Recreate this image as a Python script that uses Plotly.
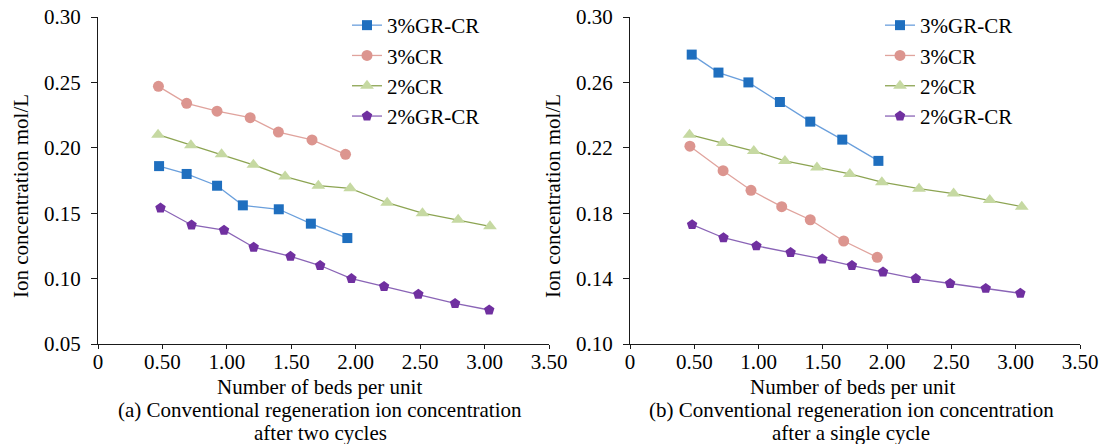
import plotly.graph_objects as go

W, H = 1107, 444

series_names = ["3%GR-CR", "3%CR", "2%CR", "2%GR-CR"]

# Panel (a): after two cycles
x_a_3gr = [0.474, 0.688, 0.924, 1.124, 1.403, 1.652, 1.935]
y_a_3gr = [0.186, 0.180, 0.171, 0.156, 0.153, 0.142, 0.131]
x_a_3cr = [0.469, 0.688, 0.924, 1.181, 1.400, 1.661, 1.921]
y_a_3cr = [0.247, 0.234, 0.228, 0.223, 0.212, 0.206, 0.195]
x_a_2cr = [0.466, 0.721, 0.959, 1.206, 1.452, 1.710, 1.957, 2.244, 2.518, 2.795, 3.042]
y_a_2cr = [0.210, 0.202, 0.195, 0.187, 0.178, 0.171, 0.169, 0.158, 0.150, 0.145, 0.140]
x_a_2gr = [0.485, 0.726, 0.978, 1.208, 1.494, 1.724, 1.967, 2.220, 2.486, 2.771, 3.036]
y_a_2gr = [0.154, 0.141, 0.137, 0.124, 0.117, 0.110, 0.100, 0.094, 0.088, 0.081, 0.076]

# Panel (b): after a single cycle
x_b_3gr = [0.480, 0.688, 0.921, 1.166, 1.402, 1.651, 1.932]
y_b_3gr = [0.277, 0.266, 0.260, 0.248, 0.236, 0.225, 0.212]
x_b_3cr = [0.466, 0.724, 0.941, 1.180, 1.402, 1.662, 1.923]
y_b_3cr = [0.221, 0.206, 0.194, 0.184, 0.176, 0.163, 0.153]
x_b_2cr = [0.463, 0.722, 0.963, 1.205, 1.454, 1.710, 1.959, 2.248, 2.517, 2.798, 3.047]
y_b_2cr = [0.228, 0.223, 0.218, 0.212, 0.208, 0.204, 0.199, 0.195, 0.192, 0.188, 0.184]
x_b_2gr = [0.483, 0.727, 0.983, 1.249, 1.496, 1.726, 1.968, 2.223, 2.490, 2.767, 3.036]
y_b_2gr = [0.173, 0.165, 0.160, 0.156, 0.152, 0.148, 0.144, 0.140, 0.137, 0.134, 0.131]

x_ticks = [0, 0.5, 1.0, 1.5, 2.0, 2.5, 3.0, 3.5]
x_ticklabels = ["0", "0.50", "1.00", "1.50", "2.00", "2.50", "3.00", "3.50"]
ya_ticks = [0.05, 0.10, 0.15, 0.20, 0.25, 0.30]
ya_ticklabels = ["0.05", "0.10", "0.15", "0.20", "0.25", "0.30"]
yb_ticks = [0.10, 0.14, 0.18, 0.22, 0.26, 0.30]
yb_ticklabels = ["0.10", "0.14", "0.18", "0.22", "0.26", "0.30"]

x_title = "Number of beds per unit"
y_title = "Ion concentration mol/L"
cap_a = ["(a) Conventional regeneration ion concentration", "after two cycles"]
cap_b = ["(b) Conventional regeneration ion concentration", "after a single cycle"]

FONT = "Liberation Serif, Times New Roman, serif"
FS = 21

styles = [
    dict(line="#6a9fdc", marker="#1f6fbf", symbol="square", size=10),
    dict(line="#e0a39d", marker="#dc958f", symbol="circle", size=11),
    dict(line="#8ca452", marker="#c6d9a2", symbol="triangle-up", size=12),
    dict(line="#8a64b6", marker="#7030a0", symbol="pentagon", size=11),
]

fig = go.Figure()

panel_a = [(x_a_3gr, y_a_3gr), (x_a_3cr, y_a_3cr), (x_a_2cr, y_a_2cr), (x_a_2gr, y_a_2gr)]
panel_b = [(x_b_3gr, y_b_3gr), (x_b_3cr, y_b_3cr), (x_b_2cr, y_b_2cr), (x_b_2gr, y_b_2gr)]

for (xs, ys), name, st in zip(panel_a, series_names, styles):
    fig.add_trace(go.Scatter(
        x=xs, y=ys, name=name, mode="lines+markers",
        line=dict(color=st["line"], width=1.3),
        marker=dict(color=st["marker"], symbol=st["symbol"], size=st["size"], line=dict(width=0)),
        xaxis="x", yaxis="y", legend="legend"))

for (xs, ys), name, st in zip(panel_b, series_names, styles):
    fig.add_trace(go.Scatter(
        x=xs, y=ys, name=name, mode="lines+markers",
        line=dict(color=st["line"], width=1.3),
        marker=dict(color=st["marker"], symbol=st["symbol"], size=st["size"], line=dict(width=0)),
        xaxis="x2", yaxis="y2", legend="legend2"))


def px_x(p):
    return p / W


def px_y(p):
    return 1 - p / H


ydom = [px_y(344), px_y(17)]
axis_common = dict(showgrid=False, zeroline=False, showline=True, linecolor="#1a1a1a",
                   linewidth=1.3, ticks="outside", tickcolor="#1a1a1a", tickwidth=1.3,
                   automargin=False,
                   tickfont=dict(family=FONT, size=FS, color="black"))

fig.update_layout(
    width=W, height=H,
    margin=dict(l=0, r=0, t=0, b=0, pad=0, autoexpand=False),
    paper_bgcolor="white", plot_bgcolor="white",
    font=dict(family=FONT, size=FS, color="black"),
    showlegend=True,
    xaxis=dict(domain=[px_x(98), px_x(549)], range=[0, 3.5], tickvals=x_ticks, ticktext=x_ticklabels,
               anchor="y", ticklen=4, ticklabelstandoff=-5, **axis_common),
    yaxis=dict(domain=ydom, range=[0.05, 0.30], tickvals=ya_ticks, ticktext=ya_ticklabels,
               anchor="x", ticklen=6, ticklabelstandoff=6, **axis_common),
    xaxis2=dict(domain=[px_x(630), px_x(1080)], range=[0, 3.5], tickvals=x_ticks, ticktext=x_ticklabels,
                anchor="y2", ticklen=4, ticklabelstandoff=-5, **axis_common),
    yaxis2=dict(domain=ydom, range=[0.10, 0.30], tickvals=yb_ticks, ticktext=yb_ticklabels,
                anchor="x2", ticklen=6, ticklabelstandoff=6, **axis_common),
    legend=dict(x=px_x(347), y=px_y(5), xanchor="left", yanchor="top", bgcolor="rgba(0,0,0,0)",
                font=dict(family=FONT, size=FS, color="black"), tracegroupgap=0),
    legend2=dict(x=px_x(880), y=px_y(5), xanchor="left", yanchor="top", bgcolor="rgba(0,0,0,0)",
                 font=dict(family=FONT, size=FS, color="black"), tracegroupgap=0),
)

ann = []
for cx, yx in [(319.5, 21), (852, 553)]:
    ann.append(dict(text=x_title, x=px_x(cx), y=px_y(387), xref="paper", yref="paper",
                    showarrow=False, xanchor="center", yanchor="middle",
                    font=dict(family=FONT, size=FS, color="black")))
    ann.append(dict(text=y_title, x=px_x(yx), y=px_y(196), xref="paper", yref="paper",
                    showarrow=False, xanchor="center", yanchor="middle", textangle=-90,
                    font=dict(family=FONT, size=FS, color="black")))
for cx, cap in [(320, cap_a), (851, cap_b)]:
    ann.append(dict(text=cap[0], x=px_x(cx), y=px_y(410), xref="paper", yref="paper",
                    showarrow=False, xanchor="center", yanchor="middle",
                    font=dict(family=FONT, size=FS, color="black")))
    ann.append(dict(text=cap[1], x=px_x(cx), y=px_y(433), xref="paper", yref="paper",
                    showarrow=False, xanchor="center", yanchor="middle",
                    font=dict(family=FONT, size=FS, color="black")))
fig.update_layout(annotations=ann)

fig.write_html("out.html", config={"displayModeBar": False},
               post_script="document.body.style.margin='0';document.body.style.overflow='hidden';")
